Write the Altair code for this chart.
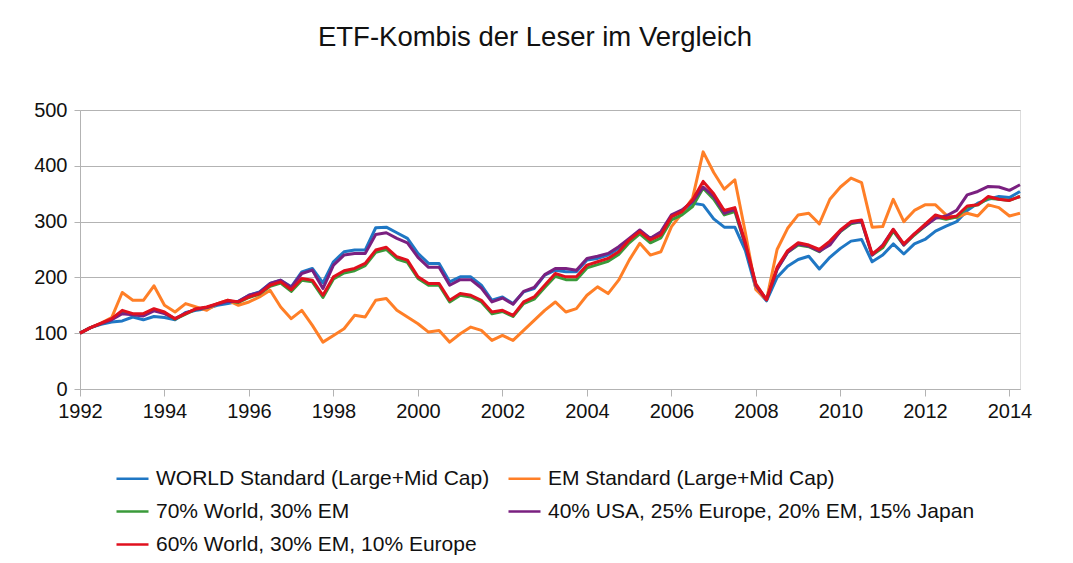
import altair as alt
import pandas as pd

FONT = "Liberation Sans, Arial, sans-serif"

series_names = [
    "WORLD Standard (Large+Mid Cap)",
    "EM Standard (Large+Mid Cap)",
    "70% World, 30% EM",
    "40% USA, 25% Europe, 20% EM, 15% Japan",
    "60% World, 30% EM, 10% Europe",
]
series_colors = ["#1f77c4", "#ff7f27", "#3a9a3a", "#7a2080", "#e0101e"]

# quarterly x positions, 1992.00 ... 2014.25
quarters = [1992 + i * 0.25 for i in range(90)]

world = [100, 110, 116, 120, 122, 129, 124, 130, 128, 124, 137, 141, 144, 150, 153, 157,
         168, 174, 189, 195, 183, 210, 216, 190, 228, 246, 249, 249, 289, 290, 280, 270,
         243, 225, 225, 192, 201, 201, 186, 159, 165, 153, 174, 180, 204, 213, 210, 210,
         231, 234, 240, 252, 267, 282, 270, 279, 309, 318, 333, 330, 305, 290, 290, 248,
         180, 158, 200, 220, 232, 238, 215, 236, 252, 265, 268, 228, 240, 260, 242, 260,
         268, 283, 292, 300, 320, 333, 340, 345, 343, 354]

em = [100, 110, 118, 128, 173, 159, 159, 185, 150, 138, 153, 147, 141, 153, 159, 150,
      156, 165, 177, 147, 126, 141, 114, 84, 96, 108, 132, 129, 159, 162, 141, 129,
      117, 102, 105, 84, 99, 111, 105, 87, 96, 87, 105, 123, 141, 156, 138, 144,
      168, 183, 171, 195, 231, 261, 240, 246, 291, 315, 342, 425, 388, 358, 375, 280,
      178, 160, 250, 288, 312, 315, 296, 340, 362, 378, 370, 290, 291, 340, 300, 320,
      330, 330, 312, 307, 315, 310, 330, 325, 310, 315]

w70_em30 = [100, 110, 117, 125, 139, 133, 133, 142, 136, 125, 134, 143, 146, 152, 158, 155,
            164, 170, 184, 190, 175, 195, 192, 164, 197, 208, 212, 221, 245, 250, 233, 227,
            198, 186, 186, 156, 168, 165, 156, 135, 139, 130, 153, 161, 182, 202, 196, 196,
            217, 223, 229, 241, 262, 278, 262, 271, 303, 312, 327, 360, 340, 312, 318, 258,
            186, 160, 215, 245, 258, 255, 246, 262, 282, 296, 300, 240, 253, 283, 258, 276,
            292, 308, 304, 308, 326, 330, 342, 340, 338, 345]

usa_mix = [100, 110, 117, 124, 135, 133, 131, 140, 135, 126, 136, 143, 146, 152, 157, 157,
           168, 173, 189, 195, 182, 207, 213, 180, 222, 240, 243, 243, 277, 280, 270, 262,
           236, 218, 218, 186, 196, 196, 181, 156, 163, 152, 175, 182, 205, 216, 216, 213,
           234, 238, 243, 255, 270, 285, 270, 282, 312, 321, 336, 362, 345, 315, 322, 258,
           185, 160, 214, 245, 260, 256, 247, 258, 283, 298, 300, 240, 258, 286, 258, 278,
           292, 306, 310, 320, 348, 354, 363, 362, 356, 366]

w60_em30_eu10 = [100, 110, 118, 126, 141, 135, 135, 144, 138, 126, 135, 144, 147, 153, 159, 156,
                 165, 171, 186, 192, 178, 198, 195, 168, 201, 212, 216, 225, 249, 254, 237, 231,
                 201, 189, 189, 159, 171, 168, 159, 138, 141, 132, 156, 165, 186, 207, 201, 201,
                 222, 228, 234, 246, 267, 282, 267, 276, 309, 318, 339, 372, 350, 320, 325, 262,
                 188, 160, 218, 248, 262, 258, 250, 265, 285, 300, 303, 242, 256, 286, 260, 278,
                 295, 312, 306, 310, 328, 330, 345, 340, 338, 345]

x_ticks = [1992, 1994, 1996, 1998, 2000, 2002, 2004, 2006, 2008, 2010, 2012, 2014]
y_ticks = [0, 100, 200, 300, 400, 500]

all_values = [world, em, w70_em30, usa_mix, w60_em30_eu10]
rows = []
for name, vals in zip(series_names, all_values):
    for q, v in zip(quarters, vals):
        rows.append({"series": name, "year": q, "value": v})
df = pd.DataFrame(rows)

chart = alt.Chart(df).mark_line(strokeWidth=3, strokeJoin="round").encode(
    x=alt.X("year:Q",
            scale=alt.Scale(domain=[1992, 2014.25], nice=False, zero=False),
            axis=alt.Axis(values=x_ticks, format="d", title=None, grid=False,
                          tickSize=7, labelPadding=5, domainColor="#b3b3b3",
                          tickColor="#b3b3b3", labelFontSize=20, labelFont=FONT,
                          labelColor="#111", labelFlush=False)),
    y=alt.Y("value:Q",
            scale=alt.Scale(domain=[0, 500], nice=False),
            axis=alt.Axis(values=y_ticks, title=None, grid=True, gridColor="#b3b3b3",
                          tickSize=6, labelPadding=7, domainColor="#b3b3b3",
                          tickColor="#b3b3b3", labelFontSize=20, labelFont=FONT,
                          labelColor="#111")),
    color=alt.Color("series:N",
                    scale=alt.Scale(domain=series_names, range=series_colors),
                    legend=alt.Legend(orient="none", legendX=35, legendY=351,
                                      direction="horizontal", columns=2, title=None,
                                      symbolType="stroke",
                                      symbolSize=1024, symbolStrokeWidth=2.5,
                                      labelFontSize=21, labelFont=FONT,
                                      labelColor="#111", labelLimit=600,
                                      columnPadding=13, rowPadding=5,
                                      labelOffset=6, padding=0)),
).properties(
    width=940,
    height=279,
    padding={"left": 72, "top": 102, "right": 45, "bottom": 172},
    autosize=alt.AutoSizeParams(type="none"),
    title=alt.TitleParams("ETF-Kombis der Leser im Vergleich", fontSize=27.5, font=FONT,
                          fontWeight="normal", color="#111", anchor="middle",
                          offset=49, dx=-15),
).configure_view(stroke="#b3b3b3", strokeWidth=1).configure(background="white")

chart.save("out.html", embed_options={"renderer": "svg", "actions": False})
